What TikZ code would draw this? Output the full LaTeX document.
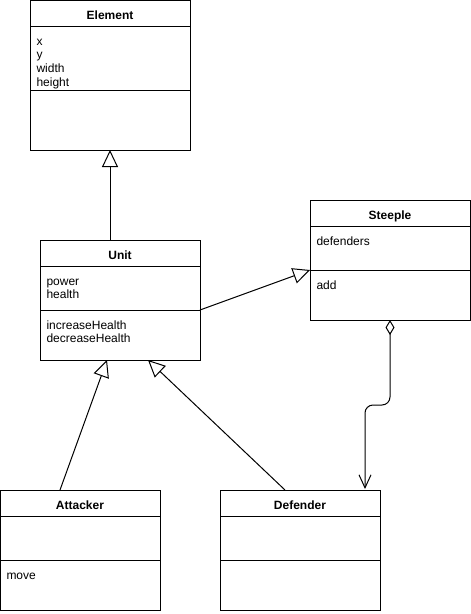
\documentclass[tikz,border=0pt]{standalone}
\usepackage{fontspec}
\setmainfont{Liberation Sans}
\usetikzlibrary{arrows.meta,calc}
\begin{document}
\begin{tikzpicture}[x=1pt,y=-1pt,line width=1pt,
  cls/.style={draw, anchor=north west, minimum width=160pt, inner sep=0pt, outer sep=0pt},
  ttl/.style={anchor=base, inner sep=0pt, font=\fontsize{12}{14}\selectfont\bfseries},
  attr/.style={anchor=base west, inner sep=0pt, font=\fontsize{12}{14}\selectfont},
  gen/.style={-{Triangle[open,length=17pt,width=16pt]}},
  agg/.style={{Diamond[open,length=15pt,width=9pt]}-{Straight Barb[length=13pt,width=12pt]}, rounded corners=8pt}]
\useasboundingbox (0,0) rectangle (471,614);
% Element
\node[cls, minimum height=150pt] (element) at (30,0) {};
\node[ttl] (elementT) at ($(element.north)+(0,19)$) {Element};
\draw ($(element.north west)+(0,26)$) -- ($(element.north east)+(0,26)$);
\draw ($(element.north west)+(0,90)$) -- ($(element.north east)+(0,90)$);
\node[attr] (elx) at (36,45) {x};
\node[attr] (ely) at (36,58.7) {y};
\node[attr] (elw) at (36,72.3) {width};
\node[attr] (elh) at (36,86) {height};
% Unit
\node[cls, minimum height=120pt] (unit) at (40,240) {};
\node[ttl] (unitT) at ($(unit.north)+(0,19)$) {Unit};
\draw ($(unit.north west)+(0,26)$) -- ($(unit.north east)+(0,26)$);
\draw ($(unit.north west)+(0,70)$) -- ($(unit.north east)+(0,70)$);
\node[attr] (unp) at (46,285) {power};
\node[attr] (unh) at (46,298.7) {health};
\node[attr] (uni) at (46,329) {increaseHealth};
\node[attr] (und) at (46,342.7) {decreaseHealth};
% Steeple
\node[cls, minimum height=120pt] (steeple) at (310,200) {};
\node[ttl] (steepleT) at ($(steeple.north)+(0,19)$) {Steeple};
\draw ($(steeple.north west)+(0,26)$) -- ($(steeple.north east)+(0,26)$);
\draw ($(steeple.north west)+(0,70)$) -- ($(steeple.north east)+(0,70)$);
\node[attr] (std) at (316,245) {defenders};
\node[attr] (sta) at (316,289) {add};
% Attacker
\node[cls, minimum height=120pt] (attacker) at (0,490) {};
\node[ttl] (attackerT) at ($(attacker.north)+(0,19)$) {Attacker};
\draw ($(attacker.north west)+(0,26)$) -- ($(attacker.north east)+(0,26)$);
\draw ($(attacker.north west)+(0,70)$) -- ($(attacker.north east)+(0,70)$);
\node[attr] (atm) at (6,579) {move};
% Defender
\node[cls, minimum height=120pt] (defender) at (220,490) {};
\node[ttl] (defenderT) at ($(defender.north)+(0,19)$) {Defender};
\draw ($(defender.north west)+(0,26)$) -- ($(defender.north east)+(0,26)$);
\draw ($(defender.north west)+(0,70)$) -- ($(defender.north east)+(0,70)$);
% Connectors
\draw[gen] ($(unit.north west)+(70,0)$) -- (element.south);
\draw[gen] ($(unit.north east)+(0,70)$) -- ($(steeple.north west)+(0,70)$);
\draw[gen] ($(attacker.north west)+(60,0)$) -- ($(unit.south west)+(67,0)$);
\draw[gen] ($(defender.north west)+(65,0)$) -- ($(unit.south west)+(108,0)$);
\draw[agg] (steeple.south) -- ($(steeple.south)+(0,85)$) -- ($(defender.north east)+(-15,-85)$) -- ($(defender.north east)+(-15,-1)$);
\end{tikzpicture}
\end{document}
